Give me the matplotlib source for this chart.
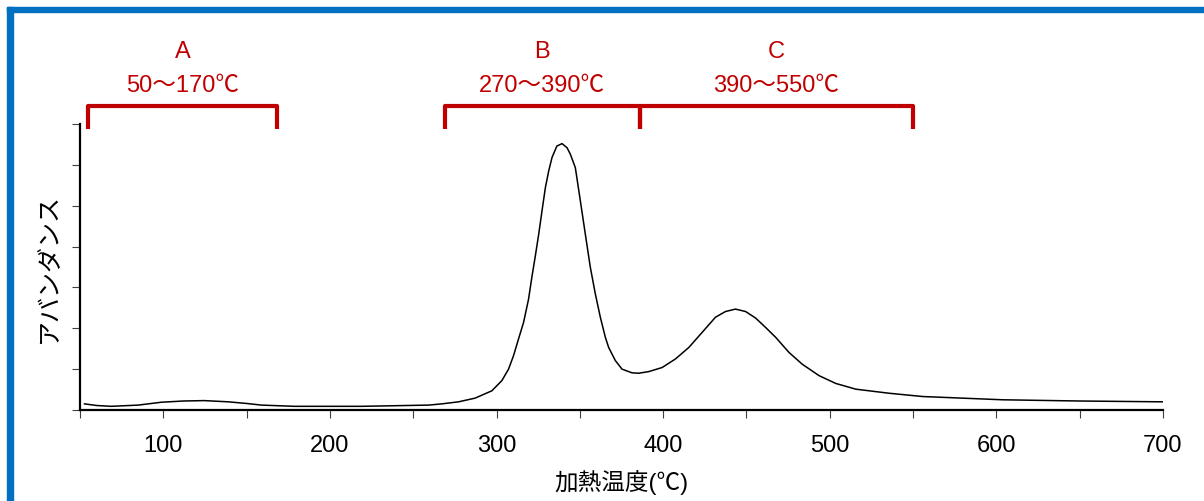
import matplotlib.pyplot as plt
from matplotlib.patches import Rectangle

plt.rcParams['font.family'] = ['Liberation Sans', 'Noto Sans CJK JP', 'DejaVu Sans']

# heating temperature (C) and abundance (arbitrary units)
temp = [52.7, 60, 68.7, 85, 98.8, 112, 124.6, 139, 150, 158.9, 178.7, 219, 259.3,
        267.1, 277.2, 287.1, 297.2, 303.2, 307.2, 310.2, 313.2, 316.2, 319.2, 321.2,
        323.2, 325.3, 327.2, 329.3, 331.3, 333.3, 336.2, 339.3, 342.3, 344.3, 347.3,
        350.3, 353.3, 356.3, 359.3, 362.3, 365.3, 367.3, 369.3, 371.3, 375.3, 381.3,
        385.3, 391.4, 399.4, 407.4, 415.4, 423.4, 431.4, 437.4, 443.4, 449.5, 455.5,
        461.5, 467.5, 475.5, 483.5, 493.6, 503.6, 515.6, 535.6, 555.7, 603.8, 650, 700]
abundance = [0.15, 0.11, 0.09, 0.12, 0.19, 0.22, 0.23, 0.20, 0.16, 0.12, 0.09, 0.09, 0.12,
             0.15, 0.20, 0.29, 0.47, 0.72, 1.00, 1.33, 1.74, 2.14, 2.71, 3.25,
             3.75, 4.30, 4.85, 5.44, 5.85, 6.18, 6.46, 6.52, 6.42, 6.26, 5.93,
             5.12, 4.30, 3.49, 2.84, 2.27, 1.78, 1.53, 1.37, 1.21, 1.00, 0.91,
             0.90, 0.94, 1.04, 1.25, 1.53, 1.90, 2.27, 2.41, 2.47, 2.41, 2.25,
             2.02, 1.78, 1.41, 1.12, 0.84, 0.65, 0.51, 0.41, 0.33, 0.25, 0.22, 0.20]

# temperature ranges marked by the brackets
range_names = ['A', 'B', 'C']
range_labels = ['50～170℃', '270～390℃', '390～550℃']
range_start = [55, 269, 386]
range_end = [168, 386, 550]

red = '#C00000'

fig = plt.figure(figsize=(12.04, 5.02), dpi=100)
ax = fig.add_axes([80 / 1204, 1 - 411 / 502, (1163 - 80) / 1204, (411 - 125) / 502])

ax.plot(temp, abundance, color='black', lw=1.1)

ax.set_xlim(50, 700)
ax.set_ylim(0, 7)
ax.set_xticks(range(50, 701, 50))
ax.set_xticklabels(['' if t % 100 else str(t) for t in range(50, 701, 50)])
ax.set_yticks(range(0, 8))
ax.set_yticklabels([])
ax.tick_params(axis='both', direction='out', length=6, width=0.8, color='#404040',
               labelsize=17)
ax.tick_params(axis='x', pad=11)
ax.tick_params(axis='y', pad=4)
ax.spines['top'].set_visible(False)
ax.spines['right'].set_visible(False)
ax.spines['left'].set_linewidth(1.6)
ax.spines['bottom'].set_linewidth(1.6)

ax.set_xlabel('加熱温度(℃)', fontsize=17, labelpad=10)
ax.set_ylabel('アバンダンス', fontsize=18, labelpad=4)

for name, label, x0, x1 in zip(range_names, range_labels, range_start, range_end):
    ax.plot([x0, x0, x1, x1], [6.87, 7.43, 7.43, 6.87], color=red, lw=3,
            solid_joinstyle='round', solid_capstyle='butt', clip_on=False)
    xc = (x0 + x1) / 2
    ax.text(xc, 8.78, name, color=red, fontsize=17, ha='center', va='center')
    ax.text(xc, 7.95, label, color=red, fontsize=17, ha='center', va='center')

# blue frame (top and left edges visible in the reference)
blue = '#0070C0'
fig.patches.append(Rectangle((7 / 1204, 0), 6 / 1204, 1 - 8 / 502, transform=fig.transFigure,
                             color=blue, zorder=5))
fig.patches.append(Rectangle((7 / 1204, 1 - 13 / 502), 1, 5 / 502, transform=fig.transFigure,
                             color=blue, zorder=5))

fig.savefig('out.png', dpi=100)
